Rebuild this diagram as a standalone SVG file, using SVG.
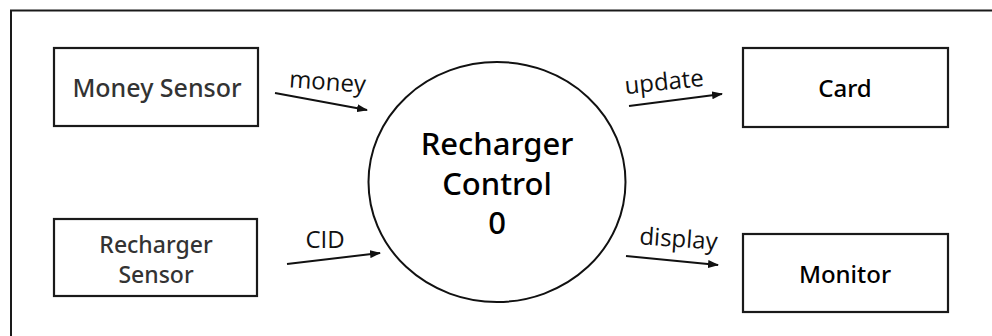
<svg xmlns="http://www.w3.org/2000/svg" width="992" height="336" viewBox="0 0 992 336">
<style>
.box{fill:#fff;stroke:#1a1a1a;stroke-width:2.2}
.bt{font-family:"Noto Sans","Open Sans",sans-serif;font-weight:500;text-anchor:middle}
.lbl{font-family:"Open Sans","Noto Sans",sans-serif;font-size:24px;fill:#111;text-anchor:middle}
.ct{font-family:"Noto Sans","Open Sans",sans-serif;font-size:31px;fill:#000;text-anchor:middle;font-weight:500}
.flow{stroke:#111;stroke-width:2;fill:none;marker-end:url(#ah)}
</style>
<defs>
<marker id="ah" markerUnits="userSpaceOnUse" markerWidth="11" markerHeight="8" refX="10" refY="4" orient="auto">
<path d="M0,0 L11,4 L0,8 z" fill="#111"/>
</marker>
</defs>
<rect width="992" height="336" fill="#fff"/>
<path d="M11,340 V10.5 H995" fill="none" stroke="#1a1a1a" stroke-width="2"/>
<g id="money-sensor">
<rect class="box" x="54" y="48" width="204" height="78"/>
<text class="bt" x="157" y="97" font-size="25" fill="#333">Money Sensor</text>
</g>
<g id="recharger-sensor">
<rect class="box" x="54" y="219" width="203" height="77"/>
<text class="bt" x="156" y="253" font-size="23" fill="#333">Recharger</text>
<text class="bt" x="156" y="283" font-size="23" fill="#333">Sensor</text>
</g>
<g id="card">
<rect class="box" x="743" y="48" width="205" height="79"/>
<text class="bt" x="845" y="97" font-size="24" fill="#000">Card</text>
</g>
<g id="monitor">
<rect class="box" x="743" y="234" width="205" height="78"/>
<text class="bt" x="845" y="283" font-size="24" fill="#000">Monitor</text>
</g>
<g id="recharger-control">
<ellipse cx="497" cy="182" rx="128.5" ry="120" fill="#fff" stroke="#111" stroke-width="2"/>
<text class="ct" x="497" y="155">Recharger</text>
<text class="ct" x="497" y="195">Control</text>
<text class="ct" x="497" y="234">0</text>
</g>
<g id="connectors">
<path class="flow" d="M275,93 L367,110"/>
<path class="flow" d="M287,264 L380,253"/>
<path class="flow" d="M629,106 L722,94"/>
<path class="flow" d="M626,256 L718,265"/>
<text class="lbl" x="327" y="90" transform="rotate(4 327 90)">money</text>
<text class="lbl" x="325" y="248">CID</text>
<text class="lbl" x="665" y="90" transform="rotate(-6 665 90)">update</text>
<text class="lbl" x="678" y="247" transform="rotate(4 678 247)">display</text>
</g>
</svg>
